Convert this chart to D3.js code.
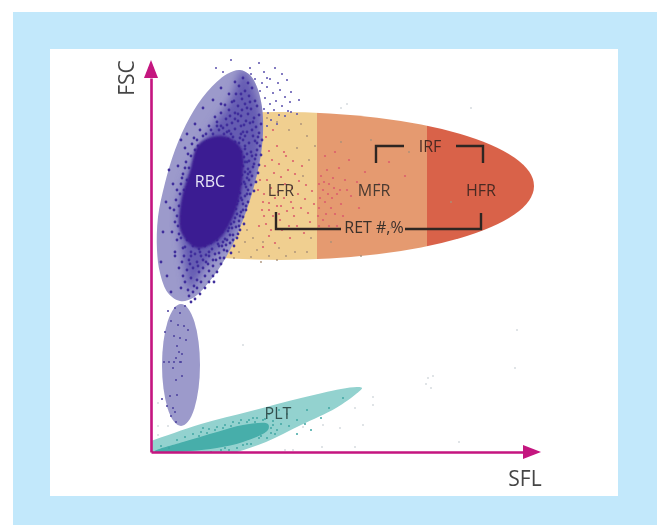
<!DOCTYPE html>
<html>
<head>
<meta charset="utf-8">
<script src="https://cdn.jsdelivr.net/npm/d3@7"></script>
<style>
body { margin: 0; background: #fff; }
svg { display: block; }
text { font-family: "Open Sans", sans-serif; }
</style>
</head>
<body>
<div id="content"></div>
<script>
const axisLabels = ['SFL', 'FSC'];
const bandNames = ['LFR', 'MFR', 'HFR'];
const bandEdges = [50, 166, 276, 392];
const bandColors = ['#f0cf90', '#e59a70', '#d9624a'];

const retGate = { cx: 129, cy: 266, rx: 254, ry: 74 };
const ghostGate = { cx: 30, cy: 87, rx: 19, ry: 61 };

const rbcOutline = [[89,382],[99,377],[106,365],[111,345],[112,319],[109,292],[102,262],[92,232],[79,202],[62,175],[42,154],[29,151],[17,159],[9,179],[6,202],[7,235],[14,269],[24,302],[39,335],[56,360],[76,378]];
const rbcHalo = [[92,382],[109,345],[109,302],[99,259],[79,215],[56,189],[39,162],[34,182],[31,205],[27,242],[39,285],[59,322],[79,352]];
const rbcCore = [[72,316],[90,304],[91,269],[84,240],[68,213],[46,204],[30,220],[30,250],[39,281],[48,308]];
const pltOutline = [[-15,6],[0,11],[50,28],[100,41],[150,54],[190,63],[207,65],[211,64],[205,58],[185,44],[150,27],[115,10],[80,-2],[40,-15],[-15,-15]];
const pltCore = [[4,1],[32,10],[66,20],[92,27],[117,28],[117,22],[92,10],[66,4],[39,1],[4,0]];

const rbcPoints = [
  // right hand band and top of the gate
  [92,374],[97,369],[88,366],[94,361],[101,364],[85,358],[91,353],[98,356],[104,351],[81,350],[87,346],[94,348],[100,343],[106,346],
  [78,342],[84,339],[90,336],[97,338],[103,334],[108,337],[75,333],[81,329],[87,331],[93,327],[99,329],[105,325],[110,328],[72,324],
  [78,321],[84,323],[90,318],[96,320],[102,316],[108,319],[111,312],[92,312],[98,309],[104,311],[109,306],[94,303],[100,300],[106,302],
  [110,297],[93,295],[98,291],[104,293],[108,287],[92,286],[97,283],[102,285],[107,279],[91,277],[96,274],[101,276],[105,270],[90,268],
  [95,265],[100,267],[103,261],[89,259],[94,256],[99,258],[87,251],[92,248],[97,250],[85,243],[90,240],[95,242],[84,234],[88,231],[92,235],
  [80,228],[85,225],[89,222],[77,221],[82,217],[86,214],[74,213],[79,209],[83,206],[71,206],[76,201],[80,199],[68,199],[73,194],[65,192],
  [70,188],[62,186],[66,180],[58,181],[62,176],[54,176],[58,170],[50,170],[54,164],[46,164],[49,158],[42,160],[44,153],[38,156],
  [95,331],[87,338],[79,336],[83,351],[74,347],[70,339],[66,330],[91,342],[99,350],[76,327],[88,309],[82,315],[86,297],[92,320],[101,322],
  [106,309],[96,298],[103,288],[99,280],[93,270],[97,262],[91,252],[86,248],[93,228],[87,218],[81,224],[75,207],[69,194],[63,170],[57,188],
  [94,316],[90,326],[84,333],[77,313],[73,318],[68,322],[62,318],[58,326],[64,335],[70,348],[78,358],[84,370],[90,358],[96,344],[102,330],
  [107,315],[105,297],[101,296],[98,272],[94,280],[90,290],[95,246],[89,236],[83,230],[79,217],[73,202],[67,208],[61,203],[55,197],[49,200],
  // fringe round the dense core
  [30,214],[36,212],[42,206],[48,203],[54,206],[60,209],[66,212],[71,220],[27,226],[26,236],[28,246],[25,252],[29,258],[33,262],[30,268],
  [36,272],[32,278],[38,284],[35,290],[40,296],[44,302],[41,308],[46,312],[52,316],[56,310],[36,226],[38,240],[35,254],[41,264],[44,276],
  [47,290],[50,298],[44,198],[40,200],[34,205],[52,192],[46,190],[38,192],[58,196],[62,192],[33,196],[42,184],[48,180],[36,182],[52,184],
  [40,174],[46,172],[34,170],[43,166],[37,162],[32,176],[28,184],[24,200],[21,220],[19,244],[22,268],[27,286],[34,304],[30,164],[40,150],
  [28,218],[24,230],[23,242],[26,262],[31,274],[34,284],[37,298],[43,314],[49,322],[60,322],[70,326],[80,318],[89,314],[94,306],[96,290],
  [97,278],[96,258],[92,242],[88,226],[82,212],[76,212],[68,206],[58,200],[50,196],[40,196],[32,204],[26,212],[31,190],[39,188],[47,186],
  [55,190],[64,198],[72,210],[78,224],[86,238],[90,254],[94,268],[94,290],[90,300],[84,310],[76,320],[66,326],[55,318],[47,306],
  // thin scatter on the left of the gate
  [12,220],[10,190],[15,250],[18,282],[30,312],[44,328],[52,344],[62,352],[70,364],[16,176],[20,160],[24,196],[36,318]
];
const sprayPoints = [
  [80,392],[99,384],[108,389],[113,380],[116,374],[124,384],[131,378],[104,373],[111,369],[119,373],[127,369],[136,372],[100,378],
  [109,361],[116,365],[122,359],[129,362],[134,355],[139,350],[114,354],[119,348],[125,351],[131,346],[137,341],[113,343],[117,339],
  [123,342],[128,337],[120,332],[126,328],[134,336],[140,340],[116,326],[72,380],[65,384],[140,360],[148,352],[146,338]
];
const retPoints = [
  [112,205],[118,216],[124,209],[131,222],[139,214],[146,226],[153,219],[159,230],[115,228],[122,236],[129,232],[136,241],
  [143,236],[150,244],[157,239],[163,248],[111,242],[118,249],[126,246],[133,254],[140,250],[147,258],[154,253],[161,261],
  [113,258],[120,264],[127,260],[134,268],[141,264],[148,271],[155,267],[116,272],[123,279],[130,275],[137,282],[144,278],
  [113,236],[108,226],[112,250],[107,262],[109,272],[118,242],[124,254],[130,246],[138,226],[142,244],[120,222],[128,238],
  [151,286],[114,286],[121,292],[128,288],[135,296],[142,291],[118,301],[126,306],[133,300],[115,315],[122,322],
  [168,244],[174,250],[180,244],[186,258],[172,262],[178,268],[184,238],[190,248],[196,262],[170,276],[176,282],[168,226],
  [182,274],[188,284],[194,272],[200,256],[206,270],[172,232],[178,226],[186,226],[192,236],[174,296],[184,300],[198,292],
  [169,254],[175,238],[181,254],[173,270],[183,264],[189,262],[168,268],[177,258],[167,236],
  [208,244],[214,280],[228,268],[238,290],[254,276]
];
const sandPoints = [
  [88,200],[94,210],[100,195],[106,202],[96,222],[110,190],[118,196],[126,192],[135,196],[144,200],[156,200],[160,214],[83,194],
  [152,276],[158,292],[146,304],[156,316],[138,322],[150,328],[126,330],[116,334],[164,306],[102,214],[112,210],[128,204],
  [190,310],[220,312],[210,196],[180,210],[240,224],[300,250],[258,300]
];
const ghostPoints = [
  [17,141],[24,144],[29,139],[34,146],[20,131],[27,127],[33,126],[37,122],[14,120],[23,116],[29,114],[35,112],
  [26,106],[28,100],[31,98],[25,94],[30,90],[13,90],[18,90],[23,90],[29,90],[22,84],[25,72],[31,76],[11,53],
  [19,56],[26,57],[16,46],[22,44],[24,40],[20,36],[25,30]
];
const pltPoints = [
  [10,6],[18,4],[26,12],[34,15],[42,18],[50,20],[58,23],[66,25],[74,27],[82,30],[90,32],[98,32],[106,34],[114,33],
  [122,31],[130,28],[124,18],[116,14],[138,26],[146,32],[136,38],[154,28],[160,22],[170,34],[156,42],[92,7],[78,2],
  [60,0],[52,24],[100,8],[108,14],[120,24],[128,42],[86,4],[70,2],[102,34],[146,18],[178,44],[192,54],[118,38],
  [48,16],[56,19],[64,22],[72,24],[80,26],[88,29],[96,30],[104,30],[112,32],[122,27],[126,22],[110,16],[96,8],[74,4],[120,19]
];
const strayPoints = [
  [277,74],[282,76],[275,68],[280,64],[366,122],[92,107],[308,10],[364,84],[222,55],[222,47],[204,44],[212,27],
  [189,24],[172,27],[152,25],[171,5],[204,5],[134,2],[142,2],[7,49],[7,26],[17,26],[7,17],[190,344],[320,344],[196,348]
];
const brackets = [
  [[225, 289], [225, 306], [253, 306]],
  [[305, 306], [332, 306], [332, 289]],
  [[125, 240], [125, 223], [190, 223]],
  [[254, 223], [330, 223], [330, 239]]
];
const labelNames = ['RBC', 'LFR', 'MFR', 'HFR', 'IRF', 'RET #,%', 'PLT'];
const labelX = [59, 130, 223, 330, 279, 223, 127];
const labelY = [265, 256, 256, 256, 300, 219, 33];
const labelColors = ['#e6e4f5', '#4a3a30', '#4a3a30', '#4a2a22', '#4a2a22', '#3a302c', '#33504e'];

const svg = d3.select('#content').append('svg')
  .attr('width', 657)
  .attr('height', 525);

svg.append('rect').attr('x', 13).attr('y', 12).attr('width', 644).attr('height', 513).attr('fill', '#c2e8fb');
svg.append('rect').attr('x', 50).attr('y', 49).attr('width', 568).attr('height', 447).attr('fill', '#fff');

const xScale = d3.scaleLinear().domain([0, 390]).range([151, 541]);
const yScale = d3.scaleLinear().domain([0, 392]).range([452, 60]);

const outline = d3.line()
  .x(d => xScale(d[0]))
  .y(d => yScale(d[1]))
  .curve(d3.curveCatmullRomClosed);

const defs = svg.append('defs');
defs.append('filter').attr('id', 'soft').append('feGaussianBlur').attr('stdDeviation', 0.45);
defs.append('filter').attr('id', 'haze').append('feGaussianBlur').attr('stdDeviation', 4);
defs.append('filter').attr('id', 'edge').append('feGaussianBlur').attr('stdDeviation', 1.3);
defs.append('clipPath').attr('id', 'ret-clip').append('ellipse')
  .attr('cx', xScale(retGate.cx))
  .attr('cy', yScale(retGate.cy))
  .attr('rx', retGate.rx)
  .attr('ry', retGate.ry);
defs.append('clipPath').attr('id', 'rbc-clip').append('path').attr('d', outline(rbcOutline));
defs.append('clipPath').attr('id', 'plot-clip').append('rect')
  .attr('x', xScale(0)).attr('y', yScale(392))
  .attr('width', xScale(390) - xScale(0)).attr('height', yScale(0) - yScale(392));

const chart = svg.append('g').attr('filter', 'url(#soft)');

function drawPoints(points, color, r) {
  chart.append('g').selectAll('circle')
    .data(points)
    .enter()
    .append('circle')
    .attr('cx', d => xScale(d[0]))
    .attr('cy', d => yScale(d[1]))
    .attr('r', r)
    .attr('fill', color);
}

// reticulocyte bands, cut to the one big ellipse
chart.append('g').attr('clip-path', 'url(#ret-clip)')
  .selectAll('rect')
  .data(bandNames)
  .enter()
  .append('rect')
  .attr('x', (d, i) => xScale(bandEdges[i]))
  .attr('width', (d, i) => xScale(bandEdges[i + 1]) - xScale(bandEdges[i]))
  .attr('y', yScale(392))
  .attr('height', yScale(0) - yScale(392))
  .attr('fill', (d, i) => bandColors[i]);

drawPoints(sandPoints, '#a98f78', 0.9);
drawPoints(retPoints, '#dc5f6c', 1.1);

chart.append('path').attr('d', outline(rbcOutline)).attr('fill', '#9c9acb');
chart.append('ellipse')
  .attr('cx', xScale(ghostGate.cx))
  .attr('cy', yScale(ghostGate.cy))
  .attr('rx', ghostGate.rx)
  .attr('ry', ghostGate.ry)
  .attr('fill', '#9c9acb');

chart.append('g').attr('clip-path', 'url(#rbc-clip)')
  .append('path')
  .attr('d', outline(rbcHalo))
  .attr('fill', '#655cb2')
  .attr('filter', 'url(#haze)');

const pltLayer = chart.append('g').attr('clip-path', 'url(#plot-clip)');
pltLayer.append('path').attr('d', outline(pltOutline)).attr('fill', '#93d2cf');
pltLayer.append('path').attr('d', outline(pltCore)).attr('fill', '#46aeaa').attr('filter', 'url(#soft)');

drawPoints(rbcPoints, '#3f2f9c', 1.4);
drawPoints(sprayPoints, '#5a50ac', 1);
chart.append('path').attr('d', outline(rbcCore)).attr('fill', '#3a1e92').attr('filter', 'url(#edge)');
drawPoints(ghostPoints, '#4a3f9e', 1);
drawPoints(pltPoints, '#3fa6a3', 1);
drawPoints(strayPoints, '#aab4bc', 0.7);

const bracketLine = d3.line().x(d => xScale(d[0])).y(d => yScale(d[1]));
chart.append('g').selectAll('path')
  .data(brackets)
  .enter()
  .append('path')
  .attr('d', d => bracketLine(d))
  .attr('fill', 'none')
  .attr('stroke', '#2e2623')
  .attr('stroke-width', 2.4);

// axes: no ticks in the original, only the shaft and an arrow head
const xAxis = d3.axisBottom(d3.scaleLinear().domain([0, 373]).range([151, 524])).tickValues([]).tickSizeOuter(0);
const yAxis = d3.axisLeft(d3.scaleLinear().domain([0, 374]).range([452, 78])).tickValues([]).tickSizeOuter(0);

const axes = chart.append('g');
axes.append('g').attr('class', 'x-axis').attr('transform', 'translate(0,452)').call(xAxis);
axes.append('g').attr('class', 'y-axis').attr('transform', 'translate(151,0)').call(yAxis);
axes.selectAll('.domain').attr('stroke', '#c4137f').attr('stroke-width', 2.6);

const arrowHead = d3.line();
axes.append('path').attr('fill', '#c4137f')
  .attr('d', arrowHead([[xScale(390), yScale(0)], [xScale(372), yScale(0) - 7], [xScale(372), yScale(0) + 7]]) + 'Z');
axes.append('path').attr('fill', '#c4137f')
  .attr('d', arrowHead([[xScale(0), yScale(392)], [xScale(0) - 7, yScale(374)], [xScale(0) + 7, yScale(374)]]) + 'Z');

chart.append('g').selectAll('text')
  .data(labelNames)
  .enter()
  .append('text')
  .attr('x', (d, i) => xScale(labelX[i]))
  .attr('y', (d, i) => yScale(labelY[i]))
  .attr('text-anchor', 'middle')
  .attr('font-size', 16)
  .attr('fill', (d, i) => labelColors[i])
  .text(d => d);

chart.append('text')
  .attr('x', 525).attr('y', 486)
  .attr('text-anchor', 'middle')
  .attr('font-size', 21)
  .attr('fill', '#444')
  .text(axisLabels[0]);

chart.append('text')
  .attr('transform', 'translate(134,78) rotate(-90)')
  .attr('text-anchor', 'middle')
  .attr('font-size', 21)
  .attr('fill', '#444')
  .text(axisLabels[1]);
</script>
</body>
</html>
